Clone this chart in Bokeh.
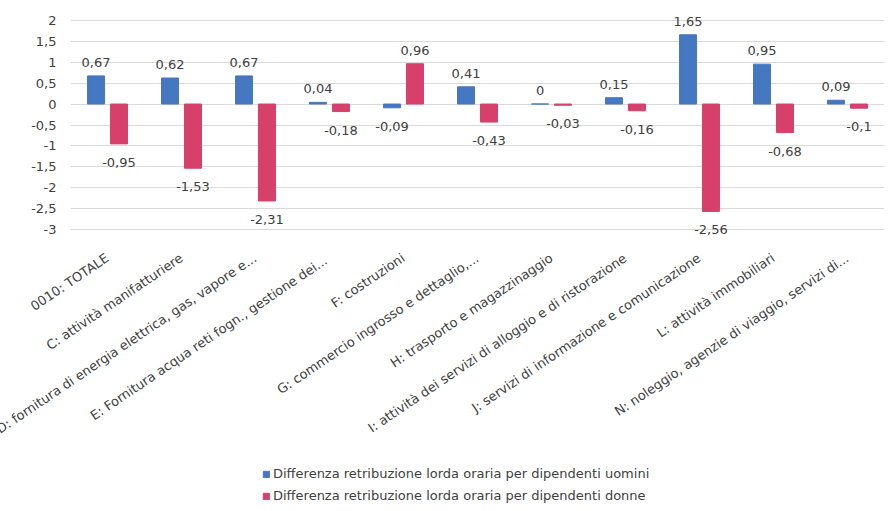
import math
from bokeh.plotting import figure
from bokeh.layouts import column
from bokeh.models import (ColumnDataSource, FactorRange, CustomJSTickFormatter,
                          FixedTicker, Legend, LegendItem)
from bokeh.core.properties import value
from bokeh.transform import dodge
from bokeh.embed import file_html
from bokeh.resources import INLINE

categories = [
    "0010: TOTALE",
    "C: attività manifatturiere",
    "D: fornitura di energia elettrica, gas, vapore e...",
    "E: Fornitura acqua reti fogn.,  gestione dei...",
    "F: costruzioni",
    "G: commercio ingrosso e dettaglio,...",
    "H: trasporto e magazzinaggio",
    "I: attività dei servizi di alloggio e di ristorazione",
    "J: servizi di informazione e comunicazione",
    "L: attività immobiliari",
    "N: noleggio, agenzie di viaggio, servizi di...",
]
uomini = [0.67, 0.62, 0.67, 0.04, -0.09, 0.41, 0, 0.15, 1.65, 0.95, 0.09]
donne = [-0.95, -1.53, -2.31, -0.18, 0.96, -0.43, -0.03, -0.16, -2.56, -0.68, -0.1]
y_ticks = [-3, -2.5, -2, -1.5, -1, -0.5, 0, 0.5, 1, 1.5, 2]
series_names = ["Differenza retribuzione lorda oraria per dipendenti uomini",
                "Differenza retribuzione lorda oraria per dipendenti donne"]

BLUE = "#4677c1"
RED = "#d6406b"
TXT = "#404040"
FONT = "DejaVu Sans"


def fmt(v):
    return f"{v:g}".replace(".", ",")


def label_cols(vals):
    return dict(
        lbl=[fmt(v) for v in vals],
        base=["bottom" if v >= 0 else "top" for v in vals],
        off=[-9 if v >= 0 else 14 for v in vals],
    )


src_u = ColumnDataSource(dict(cat=categories, val=uomini, **label_cols(uomini)))
src_d = ColumnDataSource(dict(cat=categories, val=donne, **label_cols(donne)))

p = figure(x_range=FactorRange(*categories, range_padding=0), y_range=(-3.3, 2.3),
           frame_width=814, frame_height=235, output_backend="svg",
           toolbar_location=None,
           min_border_left=70, min_border_top=7, min_border_right=0,
           min_border_bottom=0)
p.outline_line_color = None

OFF = 0.155
W = 0.23
r1 = p.vbar(x=dodge("cat", -OFF, range=p.x_range), top="val", width=W,
            source=src_u, color=BLUE)
r2 = p.vbar(x=dodge("cat", OFF, range=p.x_range), top="val", width=W,
            source=src_d, color=RED)

for src, off in ((src_u, -OFF), (src_d, OFF)):
    p.text(x=dodge("cat", off, range=p.x_range), y="val", text="lbl",
           y_offset="off", text_baseline="base", text_align="center",
           text_font_size="13px", text_color=TXT, text_font=value(FONT),
           source=src)

p.yaxis.ticker = FixedTicker(ticks=y_ticks)
p.yaxis.formatter = CustomJSTickFormatter(code="return tick.toString().replace('.', ',');")
p.yaxis.axis_line_color = None
p.yaxis.major_tick_line_color = None
p.yaxis.minor_tick_line_color = None
p.yaxis.major_label_text_font = FONT
p.yaxis.major_label_text_font_size = "13px"
p.yaxis.major_label_text_color = TXT
p.yaxis.major_label_standoff = 8

p.xaxis.axis_line_color = None
p.xaxis.major_tick_line_color = None
p.xaxis.major_label_orientation = math.radians(34)
p.xaxis.major_label_text_font = FONT
p.xaxis.major_label_text_font_size = "13px"
p.xaxis.major_label_text_color = TXT
p.xaxis.major_label_standoff = 8

p.xgrid.grid_line_color = None
p.ygrid.grid_line_color = "#d9d9d9"
p.ygrid.ticker = FixedTicker(ticks=y_ticks)

# legend in a small figure below the chart (swatch renderers sit outside its view)
lg = figure(width=884, height=66, output_backend="svg", toolbar_location=None,
            x_range=(0, 1), y_range=(0, 1), min_border=0)
lg.axis.visible = False
lg.grid.visible = False
lg.outline_line_color = None
sw = ColumnDataSource(dict(x=[-5], top=[-5]))
e1 = lg.vbar(x="x", top="top", width=0.1, color=BLUE, source=sw)
e2 = lg.vbar(x="x", top="top", width=0.1, color=RED, source=sw)
legend = Legend(items=[LegendItem(label=series_names[0], renderers=[e1]),
                       LegendItem(label=series_names[1], renderers=[e2])],
                location=(192, 8), orientation="vertical",
                label_text_font=FONT, label_text_font_size="13px",
                label_text_color=TXT, glyph_width=8, glyph_height=8,
                spacing=7, border_line_color=None, background_fill_alpha=0,
                margin=0, padding=0, label_standoff=3)
lg.add_layout(legend, "center")

open("out.html", "w").write(file_html(column(p, lg, spacing=0), INLINE))
